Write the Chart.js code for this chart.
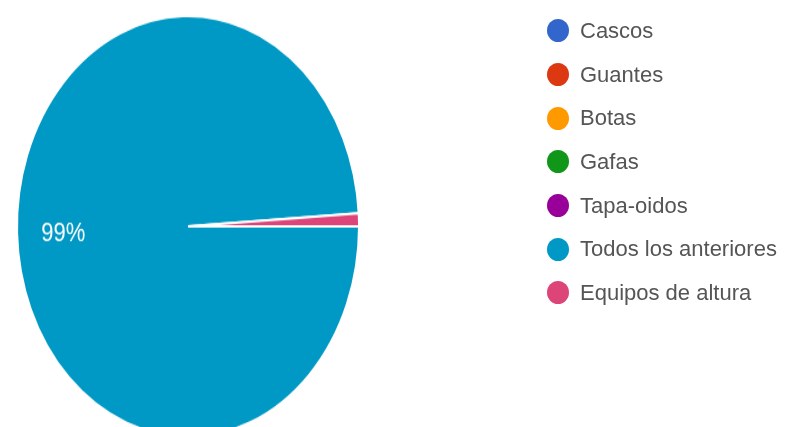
<!DOCTYPE html>
<html lang="es">
<head>
    <meta charset="UTF-8">
    <title>Elementos de protección</title>
    <script src="https://cdn.jsdelivr.net/npm/chart.js"></script>
    <style>
        html, body { margin: 0; padding: 0; background: #fff; }
        body { width: 789px; height: 427px; overflow: hidden; position: relative; font-family: "Liberation Sans", Arial, sans-serif; }
        #pieWrap { position: absolute; left: 0; top: 0; width: 376px; height: 427px; overflow: hidden; filter: blur(0.5px); }
        #pieChart { display: block; }
        #legend { position: absolute; left: 547px; top: 9px; margin: 0; padding: 0; list-style: none; filter: blur(0.6px); }
        #legend li { display: flex; align-items: center; height: 43.7px; }
        #legend .dot { width: 22px; height: 23px; border-radius: 50%; margin-right: 11px; }
        #legend .txt { font-size: 22px; color: #555; white-space: nowrap; }
    </style>
</head>
<body>
    <div id="pieWrap">
        <!-- drawn 376x360, shown 376x443 so the pie reads as an oval -->
        <canvas id="pieChart" width="376" height="360" style="width:376px;height:443px"></canvas>
    </div>
    <ul id="legend"></ul>

    <script>
        const categories = ['Cascos', 'Guantes', 'Botas', 'Gafas', 'Tapa-oidos', 'Todos los anteriores', 'Equipos de altura'];
        const responses = [0, 0, 0, 0, 0, 99, 1];
        const sliceColors = ['#3366cc', '#dc3912', '#ff9900', '#109618', '#990099', '#0099c6', '#dd4477'];

        const total = responses.reduce((a, b) => a + b, 0);

        // percentage labels inside the big slices
        const sliceLabels = {
            id: 'sliceLabels',
            afterDatasetsDraw(chart) {
                const ctx = chart.ctx;
                const arcs = chart.getDatasetMeta(0).data;
                ctx.save();
                ctx.fillStyle = '#ffffff';
                ctx.font = '22px "Liberation Sans", Arial, sans-serif';
                ctx.textAlign = 'center';
                ctx.textBaseline = 'middle';
                arcs.forEach((arc, i) => {
                    const pct = responses[i] / total * 100;
                    if (pct < 5) return;
                    const p = arc.getProps(['x', 'y', 'startAngle', 'endAngle', 'outerRadius'], true);
                    const mid = (p.startAngle + p.endAngle) / 2;
                    const r = p.outerRadius * 0.73;
                    ctx.fillText(Math.round(pct) + '%', p.x + Math.cos(mid) * r, p.y + Math.sin(mid) * r + 2);
                });
                ctx.restore();
            }
        };

        new Chart(document.getElementById('pieChart'), {
            type: 'pie',
            data: {
                labels: categories,
                datasets: [{
                    data: responses,
                    backgroundColor: sliceColors,
                    borderColor: '#ffffff',
                    borderWidth: 2
                }]
            },
            options: {
                responsive: false,
                animation: false,
                rotation: 90,
                layout: { padding: { left: 16, right: 16, top: 12, bottom: 4 } },
                plugins: {
                    legend: { display: false },
                    tooltip: { enabled: false }
                }
            },
            plugins: [sliceLabels]
        });

        // legend list
        const legend = document.getElementById('legend');
        categories.forEach((name, i) => {
            const li = document.createElement('li');
            const dot = document.createElement('span');
            dot.className = 'dot';
            dot.style.background = sliceColors[i];
            const txt = document.createElement('span');
            txt.className = 'txt';
            txt.textContent = name;
            li.appendChild(dot);
            li.appendChild(txt);
            legend.appendChild(li);
        });
    </script>
</body>
</html>
